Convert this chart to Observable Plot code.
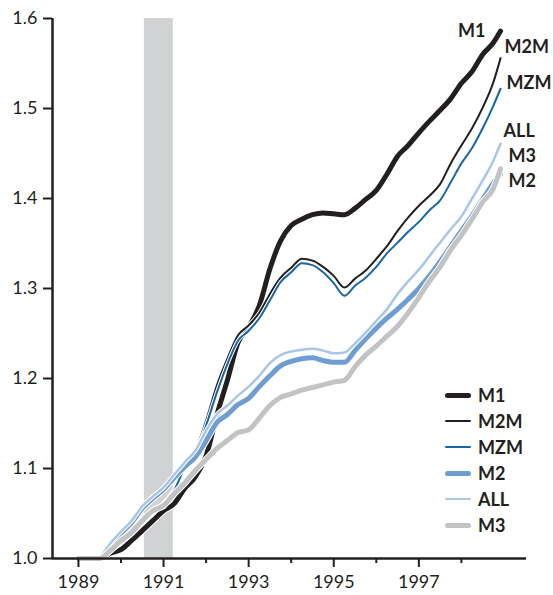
<!DOCTYPE html>
<html><head><meta charset="utf-8">
<script src="https://cdn.jsdelivr.net/npm/d3@7"></script>
<script src="https://cdn.jsdelivr.net/npm/@observablehq/plot@0.6"></script>
<style>
body{margin:0;background:#fff;}
#wrap{position:relative;width:553px;height:595px;font-family:Lato,"Open Sans",sans-serif;}
.legend{position:absolute;left:445px;top:382px;}
.item{display:flex;align-items:center;height:26px;font-weight:bold;font-size:18px;color:#231f20;line-height:26px}
.sw{width:26px;margin-right:7px;border-radius:3px}
</style></head><body><div id="wrap"></div>
<script>
// Quarterly observations (decimal years), index = 1.0 at start
const dates = [1989.00,1989.25,1989.50,1989.75,1990.00,1990.25,1990.50,1990.75,1991.00,1991.25,1991.50,1991.75,1992.00,1992.25,1992.50,1992.75,1993.00,1993.25,1993.50,1993.75,1994.00,1994.25,1994.50,1994.75,1995.00,1995.25,1995.50,1995.75,1996.00,1996.25,1996.50,1996.75,1997.00,1997.25,1997.50,1997.75,1998.00,1998.25,1998.50,1998.75,1998.92];
const m1  = [1.000,1.000,1.000,1.006,1.010,1.020,1.031,1.042,1.053,1.061,1.078,1.091,1.114,1.159,1.198,1.240,1.257,1.281,1.322,1.353,1.370,1.377,1.382,1.384,1.383,1.382,1.389,1.399,1.409,1.427,1.447,1.459,1.473,1.486,1.498,1.511,1.528,1.541,1.560,1.573,1.586];
const m2m = [1.000,1.000,1.000,1.009,1.017,1.028,1.042,1.051,1.062,1.076,1.102,1.120,1.153,1.192,1.222,1.248,1.259,1.273,1.294,1.312,1.323,1.333,1.331,1.324,1.314,1.301,1.311,1.320,1.333,1.347,1.364,1.379,1.392,1.403,1.416,1.439,1.459,1.478,1.501,1.529,1.556];
const mzm = [1.000,1.000,1.000,1.008,1.017,1.027,1.040,1.050,1.062,1.076,1.101,1.118,1.148,1.184,1.216,1.242,1.253,1.267,1.287,1.307,1.318,1.328,1.326,1.318,1.306,1.292,1.303,1.312,1.324,1.339,1.351,1.363,1.374,1.387,1.398,1.418,1.439,1.456,1.478,1.503,1.522];
const m2  = [1.000,1.000,1.000,1.014,1.028,1.040,1.056,1.067,1.077,1.090,1.102,1.113,1.131,1.151,1.160,1.171,1.178,1.191,1.203,1.214,1.219,1.222,1.223,1.220,1.218,1.218,1.231,1.244,1.256,1.267,1.277,1.288,1.300,1.314,1.330,1.347,1.364,1.381,1.399,1.417,1.427];
const all = [1.000,1.000,1.002,1.017,1.030,1.042,1.058,1.069,1.079,1.093,1.107,1.120,1.142,1.160,1.170,1.181,1.191,1.203,1.217,1.226,1.230,1.232,1.233,1.231,1.228,1.229,1.239,1.251,1.264,1.277,1.294,1.308,1.321,1.336,1.351,1.366,1.380,1.400,1.420,1.442,1.461];
const m3  = [1.000,1.000,1.000,1.009,1.020,1.029,1.042,1.053,1.059,1.072,1.084,1.098,1.110,1.122,1.131,1.140,1.143,1.156,1.170,1.179,1.183,1.187,1.190,1.193,1.196,1.198,1.213,1.226,1.236,1.247,1.258,1.273,1.290,1.308,1.324,1.343,1.359,1.377,1.396,1.411,1.433];

const seriesNames = ["M1","M2M","MZM","M2","ALL","M3"];
const seriesValues = {M1:m1, M2M:m2m, MZM:mzm, M2:m2, ALL:all, M3:m3};
const recessions = [{start:1990.55, end:1991.23}];
const yTicks = [1.0,1.1,1.2,1.3,1.4,1.5,1.6];
const majorYears = [1989,1991,1993,1995,1997];
const minorYears = [1990,1992,1994,1996,1998];

// styles (kept apart from data)
const styles = {
  M1:  {color:"#231f20", width:5,   dx:-15, dy:0,   anchor:"end"},
  M2M: {color:"#231f20", width:2,   dx:4,   dy:-11, anchor:"start"},
  MZM: {color:"#1766a6", width:2,   dx:6,   dy:-5,  anchor:"start"},
  M2:  {color:"#6e9dcf", width:5,   dx:8,   dy:7,   anchor:"start"},
  ALL: {color:"#a9c6e8", width:2.5, dx:3,   dy:-12, anchor:"start"},
  M3:  {color:"#c2c3c5", width:5,   dx:8,   dy:-13, anchor:"start"}
};
const ink = "#231f20";
const xDomain = [1988.39, 1999.53];

const table = seriesNames.map(name => dates.map((d,i) => ({name, date:d, value:seriesValues[name][i]})));

const marks = [
  Plot.rectX(recessions, {x1:"start", x2:"end", y1:1.0, y2:1.6, fill:"#d1d2d4"})
];
for (const rows of table) {
  const s = styles[rows[0].name];
  marks.push(Plot.line(rows, {x:"date", y:"value", stroke:"white", strokeWidth:s.width+2, curve:"monotone-x"}));
  marks.push(Plot.line(rows, {x:"date", y:"value", stroke:s.color, strokeWidth:s.width, curve:"monotone-x"}));
}
for (const rows of table) {
  const s = styles[rows[0].name];
  const last = rows[rows.length-1];
  marks.push(Plot.text([last], {x:"date", y:"value", text:"name", dx:s.dx, dy:s.dy, textAnchor:s.anchor, fontWeight:"bold", fontSize:18, fill:ink}));
}
marks.push(
  Plot.ruleX([xDomain[0]], {stroke:ink, strokeWidth:2.5}),
  Plot.ruleY([1.0], {stroke:ink, strokeWidth:2.5}),
  Plot.axisY(yTicks, {label:null, tickSize:9, tickPadding:6, tickFormat:d3.format(".1f"), stroke:ink, strokeWidth:2, fill:ink}),
  Plot.axisX(majorYears, {label:null, tickSize:9, tickPadding:8, tickFormat:d3.format("d"), stroke:ink, strokeWidth:2, fill:ink}),
  Plot.axisX(minorYears, {label:null, tickSize:5, tickFormat:() => "", stroke:ink, strokeWidth:2})
);

const chart = Plot.plot({
  width:553, height:595,
  marginLeft:52, marginRight:27, marginTop:18, marginBottom:37,
  x:{domain:xDomain, label:null},
  y:{domain:[1.0,1.6], label:null},
  style:{fontFamily:"Lato, 'Open Sans', sans-serif", fontSize:"18px", color:ink, background:"white"},
  marks
});
const wrap = document.getElementById("wrap");
wrap.appendChild(chart);

const legend = document.createElement("div");
legend.className = "legend";
for (const name of seriesNames) {
  const s = styles[name];
  const item = document.createElement("div");
  item.className = "item";
  const sw = document.createElement("span");
  sw.className = "sw";
  sw.style.height = s.width + "px";
  sw.style.background = s.color;
  const t = document.createElement("span");
  t.textContent = name;
  item.appendChild(sw); item.appendChild(t);
  legend.appendChild(item);
}
wrap.appendChild(legend);
</script></body></html>
